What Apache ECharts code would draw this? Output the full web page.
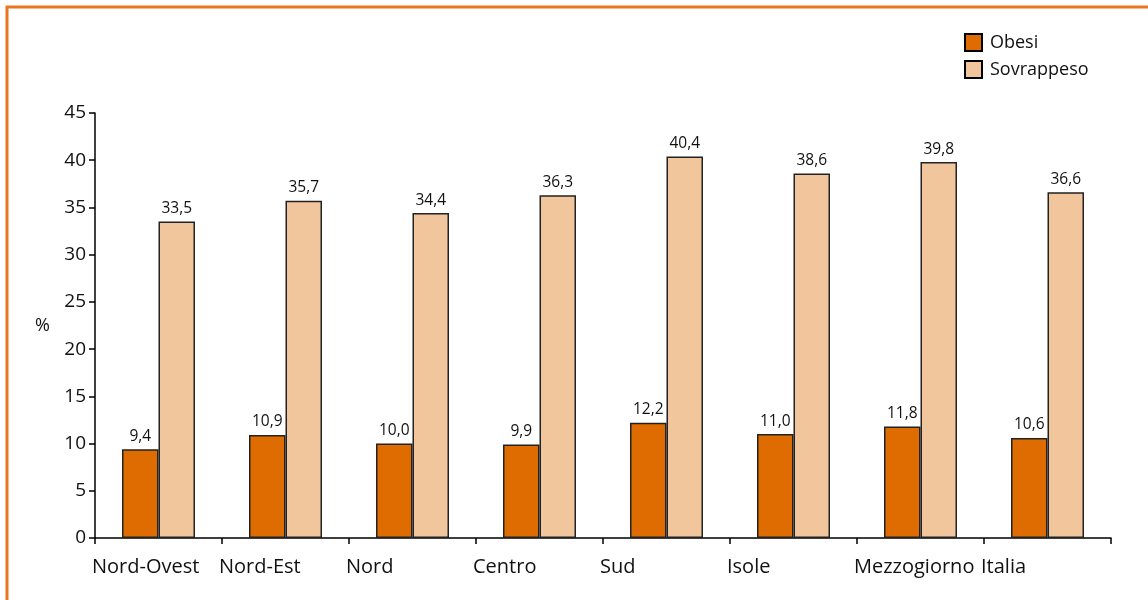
<!DOCTYPE html>
<html>
<head>
<meta charset="utf-8">
<script src="https://cdn.jsdelivr.net/npm/echarts@6/dist/echarts.min.js"></script>
<style>html,body{margin:0;padding:0;background:#fff}#c{width:1148px;height:600px}</style>
</head>
<body>
<div id="c"></div>
<script>
const categories = ['Nord-Ovest','Nord-Est','Nord','Centro','Sud','Isole','Mezzogiorno','Italia'];
const obesi = [9.4, 10.9, 10.0, 9.9, 12.2, 11.0, 11.8, 10.6];
const sovrappeso = [33.5, 35.7, 34.4, 36.3, 40.4, 38.6, 39.8, 36.6];
const yTicks = {min: 0, max: 45, interval: 5};

const font = '"Open Sans", "DejaVu Sans", sans-serif';
const chart = echarts.init(document.getElementById('c'));
const fmt = p => p.value.toFixed(1).replace('.', ',');
chart.setOption({
  animation: false,
  backgroundColor: '#fff',
  textStyle: {fontFamily: font},
  graphic: [
    {type: 'line', shape: {x1: 6, y1: 7, x2: 1148, y2: 7}, style: {stroke: '#E87722', lineWidth: 3}},
    {type: 'line', shape: {x1: 7, y1: 6, x2: 7, y2: 600}, style: {stroke: '#E87722', lineWidth: 3}}
  ],
  legend: {
    orient: 'vertical', left: 964, top: 33, padding: 0, itemWidth: 17, itemHeight: 17, itemGap: 8,
    icon: 'rect',
    itemStyle: {borderColor: '#000', borderWidth: 2},
    textStyle: {fontSize: 18, color: '#111', fontFamily: font, padding: [0,0,0,3]},
    data: ['Obesi', 'Sovrappeso']
  },
  grid: {left: 95, right: 37, top: 113, bottom: 62, containLabel: false},
  xAxis: [
    {
      type: 'category', data: categories, boundaryGap: true,
      axisLine: {lineStyle: {color: '#000', width: 1.5}},
      axisTick: {show: true, length: 6, alignWithLabel: false, lineStyle: {color: '#000', width: 1.5}},
      axisLabel: {show: false}
    },
    {
      type: 'category', data: categories.concat(['']), boundaryGap: false, position: 'bottom',
      axisLine: {show: false}, axisTick: {show: false},
      axisLabel: {show: true, align: 'left', margin: 19, fontSize: 20, color: '#111', fontFamily: font, interval: 0, padding: [0,0,0,-3]}
    }
  ],
  yAxis: {
    type: 'value', min: yTicks.min, max: yTicks.max, interval: yTicks.interval,
    name: '%', nameLocation: 'middle', nameRotate: 0, nameGap: 45,
    nameTextStyle: {fontSize: 18, color: '#111', fontFamily: font, padding: [0,0,10,0]},
    axisLine: {show: true, lineStyle: {color: '#000', width: 1.5}},
    axisTick: {show: true, length: 6, lineStyle: {color: '#000', width: 1.5}},
    axisLabel: {fontSize: 19, color: '#111', margin: 9, fontFamily: font},
    splitLine: {show: false}
  },
  series: [
    {
      name: 'Obesi', type: 'bar', data: obesi, xAxisIndex: 0,
      barWidth: 36.5, barGap: '0%',
      itemStyle: {color: '#DF6C00', borderColor: '#222', borderWidth: 1.5},
      label: {show: true, position: 'top', distance: 5, fontSize: 15.5, color: '#111', formatter: fmt, fontFamily: font}
    },
    {
      name: 'Sovrappeso', type: 'bar', data: sovrappeso, xAxisIndex: 0,
      barWidth: 36.5, barGap: '0%',
      itemStyle: {color: '#F2C69C', borderColor: '#222', borderWidth: 1.5},
      label: {show: true, position: 'top', distance: 5, fontSize: 15.5, color: '#111', formatter: fmt, fontFamily: font}
    }
  ]
});
</script>
</body>
</html>
